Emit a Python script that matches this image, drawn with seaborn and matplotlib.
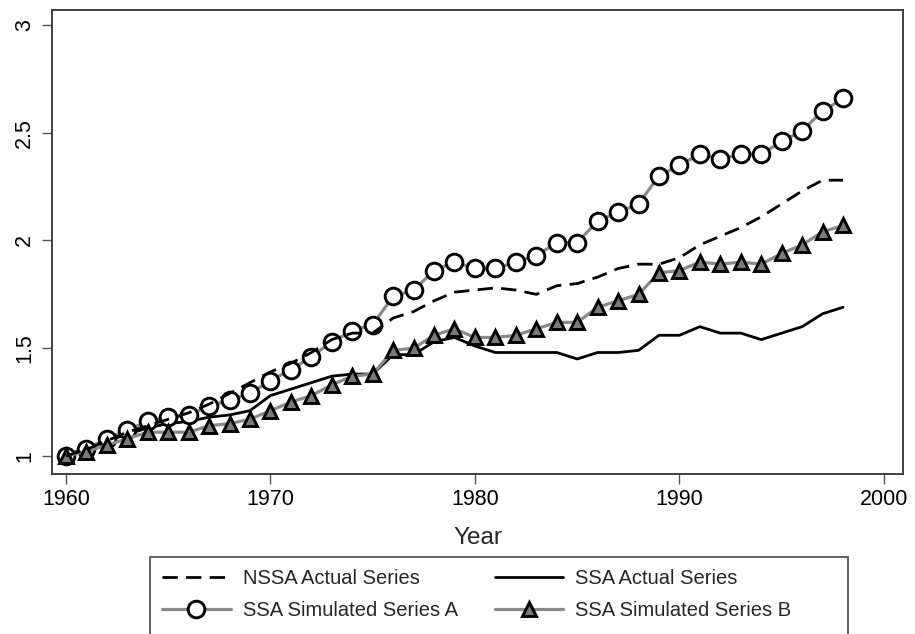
import numpy as np
import pandas as pd
import matplotlib
matplotlib.use("Agg")
import matplotlib.pyplot as plt
from matplotlib.patches import Rectangle
import seaborn as sns

years = list(range(1960, 1999))
nssa_actual = [1.00, 1.03, 1.07, 1.11, 1.14, 1.17, 1.20, 1.24, 1.29, 1.34,
               1.39, 1.43, 1.48, 1.54, 1.57, 1.57, 1.64, 1.67, 1.72, 1.76,
               1.77, 1.78, 1.77, 1.75, 1.79, 1.80, 1.83, 1.87, 1.89, 1.89,
               1.92, 1.98, 2.02, 2.06, 2.11, 2.17, 2.23, 2.28, 2.28]
ssa_actual = [1.00, 1.04, 1.07, 1.10, 1.13, 1.15, 1.16, 1.18, 1.19, 1.21,
              1.28, 1.31, 1.34, 1.37, 1.38, 1.38, 1.47, 1.47, 1.53, 1.55,
              1.51, 1.48, 1.48, 1.48, 1.48, 1.45, 1.48, 1.48, 1.49, 1.56,
              1.56, 1.60, 1.57, 1.57, 1.54, 1.57, 1.60, 1.66, 1.69]
sim_a = [1.00, 1.03, 1.08, 1.12, 1.16, 1.18, 1.19, 1.23, 1.26, 1.29,
         1.35, 1.40, 1.46, 1.53, 1.58, 1.61, 1.74, 1.77, 1.86, 1.90,
         1.87, 1.87, 1.90, 1.93, 1.99, 1.99, 2.09, 2.13, 2.17, 2.30,
         2.35, 2.40, 2.38, 2.40, 2.40, 2.46, 2.51, 2.60, 2.66]
sim_b = [1.00, 1.02, 1.05, 1.08, 1.11, 1.11, 1.11, 1.14, 1.15, 1.17,
         1.21, 1.25, 1.28, 1.33, 1.37, 1.38, 1.49, 1.50, 1.56, 1.59,
         1.55, 1.55, 1.56, 1.59, 1.62, 1.62, 1.69, 1.72, 1.75, 1.85,
         1.86, 1.90, 1.89, 1.90, 1.89, 1.94, 1.98, 2.04, 2.07]

labels = ["NSSA Actual Series", "SSA Actual Series",
          "SSA Simulated Series A", "SSA Simulated Series B"]
x_ticks = [1960, 1970, 1980, 1990, 2000]
y_ticks = [1, 1.5, 2, 2.5, 3]
y_tick_labels = ["1", "1.5", "2", "2.5", "3"]

sns.set_theme(style="white")
plt.rcParams['font.family'] = ['Liberation Sans', 'DejaVu Sans']

fig = plt.figure(figsize=(9.15, 6.34), dpi=100)
ax = fig.add_axes([52/915, 1-474/634, (903-52)/915, (474-10)/634])

grey = "#8a8a8a"
sns.lineplot(x=years, y=sim_a, ax=ax, color=grey, lw=2.3, marker="o",
             markersize=12, markerfacecolor="white", markeredgecolor="black",
             markeredgewidth=2.1, label=labels[2], zorder=3)
sns.lineplot(x=years, y=sim_b, ax=ax, color=grey, lw=2.3, marker="^",
             markersize=10, markerfacecolor="#7a7a7a", markeredgecolor="black",
             markeredgewidth=2.1, label=labels[3], zorder=3)
sns.lineplot(x=years, y=nssa_actual, ax=ax, color="black", lw=2.0,
             label=labels[0], zorder=4)
sns.lineplot(x=years, y=ssa_actual, ax=ax, color="black", lw=2.0,
             label=labels[1], zorder=2)

lines = {l.get_label(): l for l in ax.get_lines()}
lines[labels[0]].set_dashes([5.5, 3.0])

ax.set_xlim(1959.32, 2000.93)
ax.set_ylim(0.916, 3.07)
ax.set_xticks(x_ticks)
ax.set_yticks(y_ticks)
ax.set_yticklabels(y_tick_labels)
ax.tick_params(axis="both", direction="out", length=7, width=1.0,
               color="#555555", labelsize=15.5, labelcolor="black")
ax.tick_params(axis="x", bottom=True, pad=4)
ax.tick_params(axis="y", left=True, labelrotation=90, pad=5)
for lab in ax.get_yticklabels():
    lab.set_va("center")
for s in ax.spines.values():
    s.set_visible(True)
    s.set_color("#333333")
    s.set_linewidth(1.3)
ax.set_xlabel("Year", fontsize=17.5, labelpad=12)
ax.set_ylabel("")
ax.grid(False)
ax.get_legend().remove()

order = [labels[0], labels[2], labels[1], labels[3]]
handles = [lines[k] for k in order]
leg = fig.legend(handles, order, loc="upper left",
                 bbox_to_anchor=(150/915, 1-557/634),
                 ncol=2, fontsize=14.5, frameon=False,
                 handlelength=3.4, handletextpad=0.6, borderpad=0.6,
                 labelspacing=0.64, columnspacing=1.85, borderaxespad=0)
fig.patches.append(Rectangle((150/915, -0.02), (848-150)/915, (1-557/634) + 0.02,
                             transform=fig.transFigure, fill=False,
                             edgecolor="#555555", lw=1.3))

fig.savefig("out.png", dpi=100)
